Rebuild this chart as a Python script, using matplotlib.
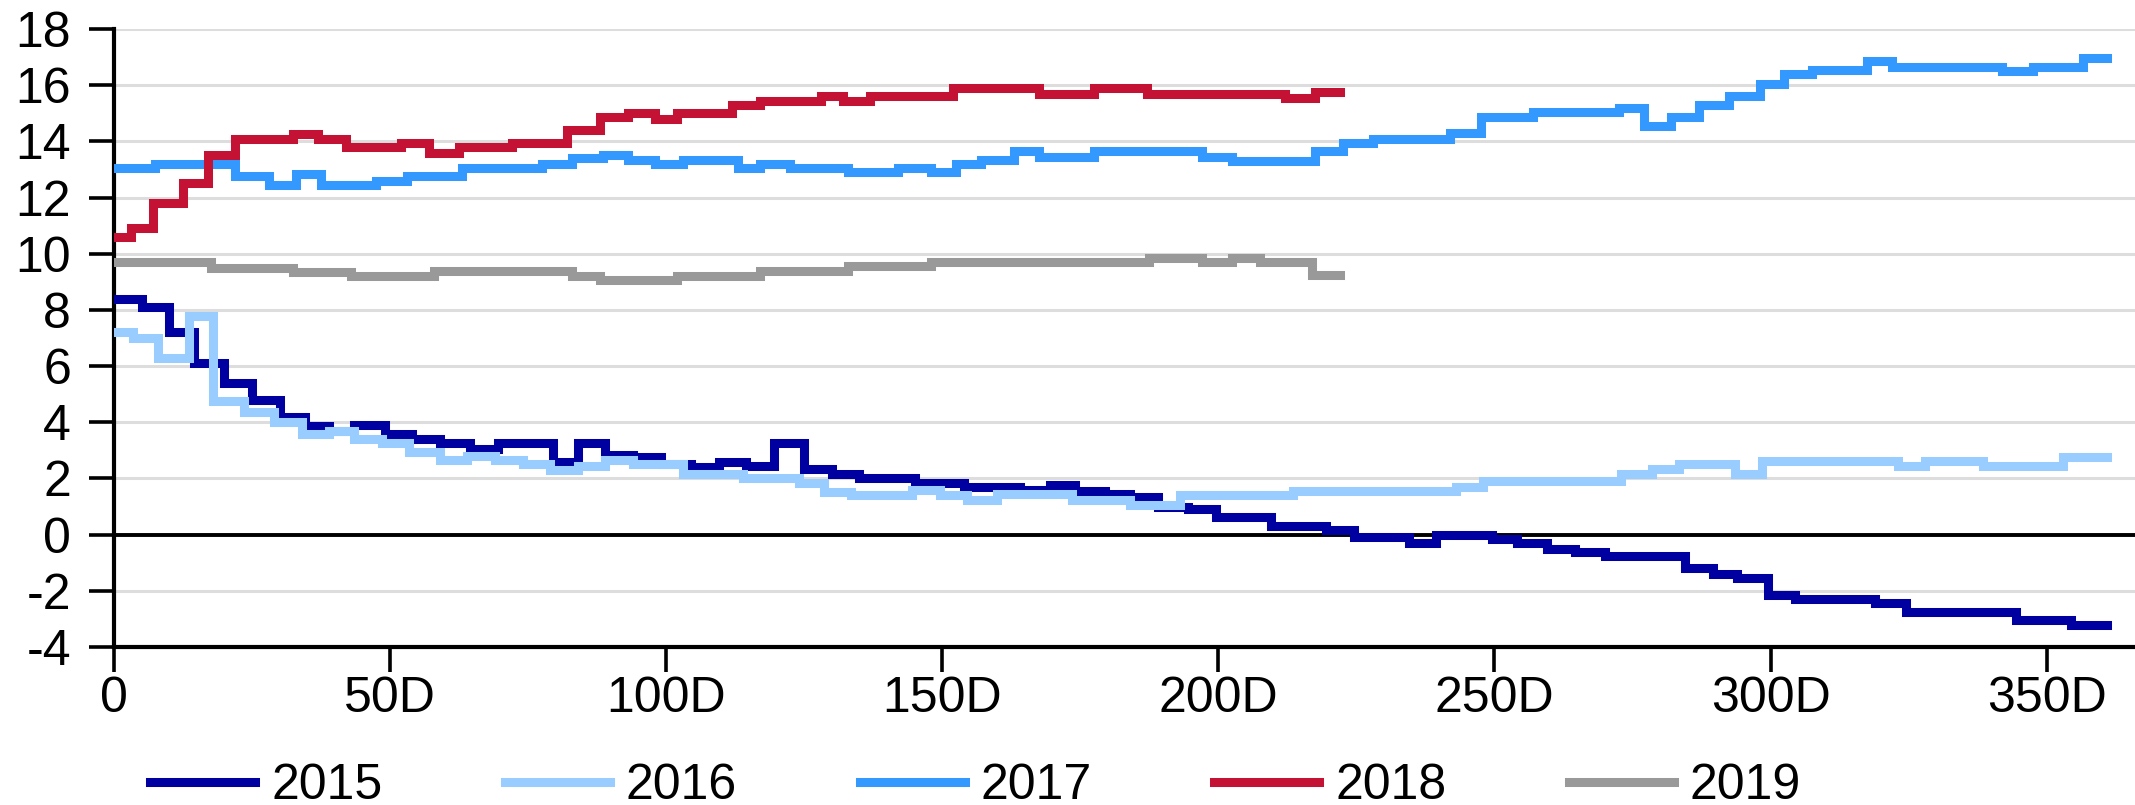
import matplotlib
matplotlib.use('Agg')
import matplotlib.pyplot as plt

plt.rcParams['font.family'] = ['Liberation Sans', 'DejaVu Sans']

# change days and values (step series)
d15 = [0, 5, 10, 14.5, 20, 25, 30, 34.5, 39, 43.5, 49, 54, 59, 64.5, 69.5, 79.5, 84, 89, 94, 99,
       104.5, 109.5, 114.5, 119.5, 125, 130, 135, 145, 154, 164, 169.5, 174, 179.5, 184, 189,
       194.5, 199.5, 209.5, 219.5, 224.5, 234.5, 239.5, 249.5, 254, 259.5, 264.5, 270, 284.5,
       289.5, 294, 299.5, 304.5, 319, 324.5, 344.5, 354.5, 361]
v15 = [8.4, 8.1, 7.2, 6.1, 5.4, 4.8, 4.2, 3.85, 3.7, 3.9, 3.6, 3.4, 3.25, 3.05, 3.25, 2.6, 3.25,
       2.85, 2.75, 2.5, 2.4, 2.6, 2.45, 3.25, 2.35, 2.15, 2.0, 1.85, 1.7, 1.6, 1.75, 1.55, 1.45,
       1.35, 1.0, 0.9, 0.63, 0.3, 0.15, -0.1, -0.3, 0.0, -0.15, -0.3, -0.5, -0.63, -0.75, -1.2,
       -1.4, -1.55, -2.15, -2.3, -2.45, -2.75, -3.05, -3.2, -3.2]

d16 = [0, 3.5, 8, 13.5, 18, 23.5, 29, 34, 39, 43.5, 48.5, 53.5, 59, 64, 69, 74, 79, 84, 89, 94,
       103, 114, 124, 128.5, 133.5, 144.5, 149.5, 154.5, 160, 173.5, 184, 193, 213.5, 243, 248,
       273, 278.5, 283.5, 293.5, 298.5, 323, 328, 338.5, 353, 361]
v16 = [7.2, 7.0, 6.3, 7.8, 4.75, 4.35, 4.0, 3.6, 3.7, 3.4, 3.25, 2.95, 2.65, 2.8, 2.65, 2.5, 2.3,
       2.45, 2.65, 2.5, 2.15, 2.0, 1.85, 1.5, 1.4, 1.6, 1.4, 1.25, 1.45, 1.25, 1.07, 1.4, 1.55,
       1.7, 1.9, 2.17, 2.35, 2.5, 2.17, 2.62, 2.45, 2.62, 2.45, 2.78, 2.78]

d17 = [0, 7.5, 22, 28, 33, 37.5, 47.5, 53, 63, 77.5, 83, 88.5, 93, 98, 103, 113, 117, 122.5, 133,
       142, 148, 152.5, 157, 163, 167.5, 177.5, 197, 202.5, 217.5, 222.5, 228, 242, 247.5, 257,
       272.5, 277, 282, 287, 292.5, 298, 302.5, 307.5, 317.5, 322, 342, 347.5, 356.5, 361]
v17 = [13.05, 13.2, 12.75, 12.45, 12.85, 12.45, 12.6, 12.75, 13.05, 13.2, 13.4, 13.5, 13.35,
       13.2, 13.35, 13.05, 13.2, 13.05, 12.9, 13.05, 12.9, 13.2, 13.35, 13.65, 13.45, 13.65,
       13.45, 13.3, 13.65, 13.95, 14.1, 14.3, 14.85, 15.05, 15.2, 14.55, 14.85, 15.3, 15.6,
       16.05, 16.4, 16.55, 16.85, 16.65, 16.5, 16.65, 16.95, 16.95]

d18 = [0, 3, 7, 12.5, 17, 22, 32.5, 37, 42, 52, 57, 62.5, 72, 82, 88, 93, 98, 102, 112, 117,
       128, 132, 137, 152, 167.5, 177.5, 187, 212, 217.5, 222]
v18 = [10.6, 10.9, 11.8, 12.5, 13.5, 14.1, 14.25, 14.1, 13.8, 13.95, 13.6, 13.8, 13.95, 14.4,
       14.85, 15.0, 14.8, 15.0, 15.3, 15.45, 15.6, 15.45, 15.6, 15.9, 15.7, 15.9, 15.7, 15.55,
       15.75, 15.75]

d19 = [0, 17.5, 32.5, 43, 58, 83, 88, 102, 117, 133, 148, 187.5, 197, 202.5, 207.5, 217, 222]
v19 = [9.7, 9.5, 9.35, 9.2, 9.4, 9.2, 9.05, 9.2, 9.4, 9.55, 9.7, 9.85, 9.7, 9.85, 9.7, 9.25, 9.25]

years = ['2015', '2016', '2017', '2018', '2019']
colors = ['#0000a0', '#99ccff', '#3399ff', '#c41234', '#999999']
series = [(d15, v15), (d16, v16), (d17, v17), (d18, v18), (d19, v19)]

yticks = list(range(-4, 19, 2))
xticks = [0, 50, 100, 150, 200, 250, 300, 350]
xlabels = ['0', '50D', '100D', '150D', '200D', '250D', '300D', '350D']

fig = plt.figure(figsize=(21.35, 8.05), dpi=100)
ax = fig.add_axes([114 / 2135, 1 - 647 / 805, 1 - 114 / 2135, (647 - 29) / 805])

for y in yticks:
    if y not in (-4, 0):
        ax.axhline(y, color='#dddddd', lw=2.2, zorder=1)
ax.axhline(0, color='black', lw=2.8, zorder=2)

for (d, v), yr, c in zip(series, years, colors):
    ax.plot(d, v, drawstyle='steps-post', color=c, lw=6.5, label=yr, zorder=3,
            solid_joinstyle='miter')

ax.set_xlim(0, 366)
ax.set_ylim(-4, 18)
ax.set_yticks(yticks)
ax.set_yticklabels([str(t).replace('\u2212', '-') for t in yticks])
ax.set_xticks(xticks)
ax.set_xticklabels(xlabels)
for s in ['top', 'right']:
    ax.spines[s].set_visible(False)
ax.spines['left'].set_linewidth(3)
ax.spines['bottom'].set_linewidth(3)
ax.tick_params(axis='both', direction='out', length=18, width=2.6, labelsize=36)
ax.tick_params(axis='y', pad=13)
ax.tick_params(axis='x', pad=3)

fig.legend(loc='center left', bbox_to_anchor=(150 / 2135, 1 - 786 / 805), ncol=5,
           frameon=False, fontsize=36, handlelength=2.1, handletextpad=0.32,
           columnspacing=2.45, borderpad=0, borderaxespad=0)

fig.savefig('out.png', dpi=100)
